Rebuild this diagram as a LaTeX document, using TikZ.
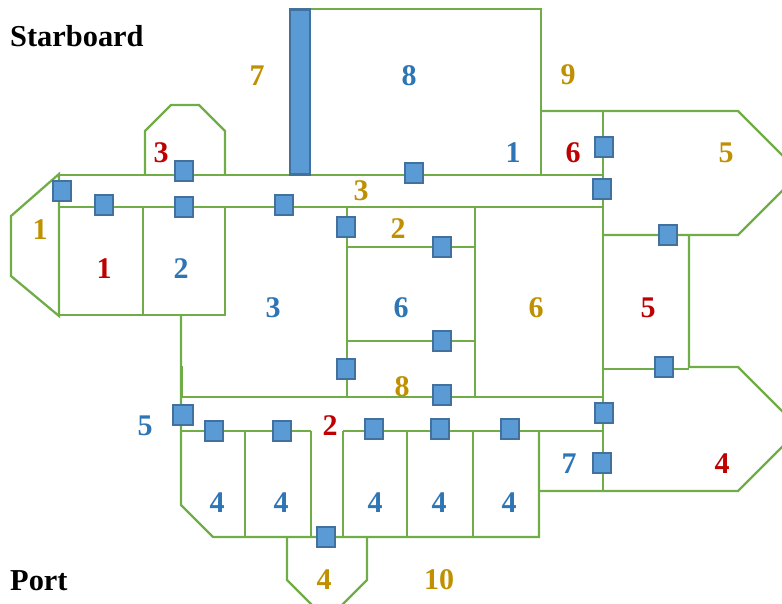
\documentclass[tikz,border=0pt]{standalone}
\usepackage{fontspec}
\setmainfont{Liberation Serif}
\definecolor{wallc}{HTML}{70AD47}
\definecolor{doorf}{HTML}{5B9BD5}
\definecolor{doorb}{HTML}{41719C}
\definecolor{goldc}{HTML}{BF9000}
\definecolor{redc}{HTML}{C00000}
\definecolor{bluec}{HTML}{2E75B6}
\tikzset{
  wall/.style={draw=wallc,line width=2.3pt,line join=miter},
  door/.style={draw=doorb,fill=doorf,line width=2.4pt,minimum width=17.6pt,minimum height=19.6pt,inner sep=0pt,outer sep=0pt},
  num/.style={font=\bfseries\fontsize{30}{30}\selectfont,inner sep=0pt},
  ngold/.style={num,text=goldc},
  nred/.style={num,text=redc},
  nblue/.style={num,text=bluec},
  side/.style={font=\bfseries\fontsize{30.4}{30.4}\selectfont,inner sep=0pt,anchor=west,text=black}
}
\begin{document}
\begin{tikzpicture}[x=1pt,y=-1pt]
\useasboundingbox (0,0) rectangle (782,604);
\clip (0,0) rectangle (782,604);
% walls
\draw[wall] (59,175) -- (603,175);
\draw[wall] (59,207) -- (603,207);
\draw[wall] (59,174) -- (11,216) -- (11,276) -- (59,316) -- cycle;
\draw[wall] (59,315) -- (225,315) -- (225,207);
\draw[wall] (143,207) -- (143,315);
\draw[wall] (145,175) -- (145,131) -- (171,105) -- (199,105) -- (225,131) -- (225,175);
\draw[wall] (311,9) -- (541,9) -- (541,175);
\draw[wall] (541,111) -- (738,111) -- (800,173) -- (738,235) -- (603,235);
\draw[wall] (603,111) -- (603,491);
\draw[wall] (603,369) -- (689,369);
\draw[wall] (689,235) -- (689,367) -- (738,367) -- (800,429) -- (738,491) -- (539,491);
\draw[wall] (181,397) -- (603,397);
\draw[wall] (181,431) -- (311,431);
\draw[wall] (343,431) -- (603,431);
\draw[wall] (181,315) -- (181,505) -- (213,537) -- (539,537) -- (539,431);
\draw[wall] (182,366) -- (182,397);
\draw[wall] (245,431) -- (245,537);
\draw[wall] (311,431) -- (311,537);
\draw[wall] (343,431) -- (343,537);
\draw[wall] (407,431) -- (407,537);
\draw[wall] (473,431) -- (473,537);
\draw[wall] (287,537) -- (287,580) -- (319,612);
\draw[wall] (367,537) -- (367,580) -- (335,612);
\draw[wall] (475,207) -- (475,397);
\draw[wall] (347,207) -- (347,397);
\draw[wall] (347,247) -- (475,247);
\draw[wall] (347,341) -- (475,341);
% bar
\node[draw=doorb,fill=doorf,line width=2.4pt,minimum width=20.4pt,minimum height=165pt,inner sep=0pt,outer sep=0pt] (bar) at (300,92) {};
% doors
\node[door] (d1) at (62,191) {};
\node[door] (d2) at (104,205) {};
\node[door] (d3) at (184,171) {};
\node[door] (d4) at (184,207) {};
\node[door] (d5) at (284,205) {};
\node[door] (d6) at (414,173) {};
\node[door] (d7) at (604,147) {};
\node[door] (d8) at (602,189) {};
\node[door] (d9) at (668,235) {};
\node[door] (d10) at (664,367) {};
\node[door] (d11) at (604,413) {};
\node[door] (d12) at (602,463) {};
\node[door] (d13) at (510,429) {};
\node[door] (d14) at (346,227) {};
\node[door] (d15) at (442,247) {};
\node[door] (d16) at (442,341) {};
\node[door] (d17) at (346,369) {};
\node[door] (d18) at (442,395) {};
\node[door] (d19) at (374,429) {};
\node[door] (d20) at (440,429) {};
\node[door,minimum width=19.6pt] (d21) at (183,415) {};
\node[door] (d22) at (214,431) {};
\node[door] (d23) at (282,431) {};
\node[door] (d24) at (326,537) {};
% labels
\node[side] (sb) at (10,36) {Starboard};
\node[side] (pt) at (10,581) {Port};
\node[ngold] (g1) at (40,230) {1};
\node[ngold] (g7) at (257,76) {7};
\node[ngold] (g9) at (568,75) {9};
\node[ngold] (g3) at (361,191) {3};
\node[ngold] (g5) at (726,153) {5};
\node[ngold] (g2) at (398,229) {2};
\node[ngold] (g6) at (536,308) {6};
\node[ngold] (g8) at (402,387) {8};
\node[ngold] (g4) at (324,580) {4};
\node[ngold] (g10) at (439,580) {10};
\node[nred] (r3) at (161,153) {3};
\node[nred] (r1) at (104,269) {1};
\node[nred] (r6) at (573,153) {6};
\node[nred] (r5) at (648,308) {5};
\node[nred] (r2) at (330,426) {2};
\node[nred] (r4) at (722,464) {4};
\node[nblue] (b8) at (409,76) {8};
\node[nblue] (b1) at (513,153) {1};
\node[nblue] (b2) at (181,269) {2};
\node[nblue] (b3) at (273,308) {3};
\node[nblue] (b6) at (401,308) {6};
\node[nblue] (b5) at (145,426) {5};
\node[nblue] (b7) at (569,464) {7};
\node[nblue] (b4a) at (217,503) {4};
\node[nblue] (b4b) at (281,503) {4};
\node[nblue] (b4c) at (375,503) {4};
\node[nblue] (b4d) at (439,503) {4};
\node[nblue] (b4e) at (509,503) {4};
\end{tikzpicture}
\end{document}
